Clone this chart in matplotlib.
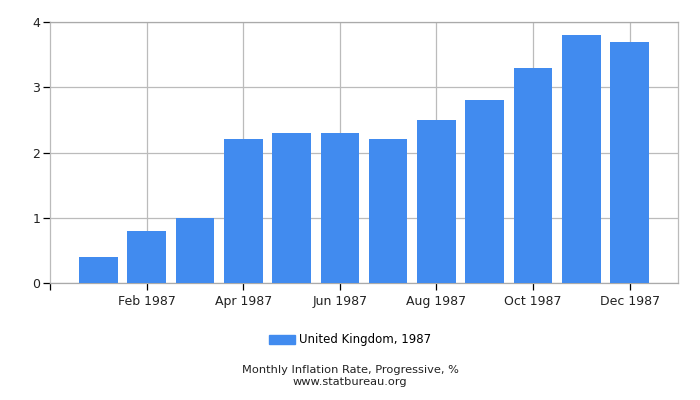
import matplotlib
matplotlib.use("Agg")
import matplotlib.pyplot as plt
from matplotlib.patches import Patch

months = ["Jan", "Feb", "Mar", "Apr", "May", "Jun", "Jul", "Aug", "Sep", "Oct", "Nov", "Dec"]
values = [0.4, 0.8, 1.0, 2.2, 2.3, 2.3, 2.2, 2.5, 2.8, 3.3, 3.8, 3.7]
tick_labels = ["Feb 1987", "Apr 1987", "Jun 1987", "Aug 1987", "Oct 1987", "Dec 1987"]
series_name = "United Kingdom, 1987"
title = "Monthly Inflation Rate, Progressive, %"
source = "www.statbureau.org"

color = "#418BEF"
plt.rcParams['font.family'] = ['DejaVu Sans']

fig = plt.figure(figsize=(7, 4), dpi=100)
ax = fig.add_axes([50/700, 1 - 283/400, (678-50)/700, (283-22)/400])

x = list(range(len(months)))
ax.bar(x, values, width=0.8, color=color, zorder=3)

ax.set_xlim(-1, 12)
ax.set_ylim(0, 4)
ax.set_yticks([0, 1, 2, 3, 4])
ax.set_xticks([-1] + [1, 3, 5, 7, 9, 11])
ax.set_xticklabels([""] + tick_labels)
ax.grid(True, color="#bbbbbb", linewidth=0.9, zorder=0)
ax.xaxis.get_gridlines()[0].set_visible(False)
for s in ax.spines.values():
    s.set_color("#bbbbbb")
    s.set_linewidth(0.9)
ax.spines['bottom'].set_color("#aaaaaa")
ax.spines['top'].set_color("#aaaaaa")
ax.tick_params(axis='both', colors="#000000", labelsize=9, length=5, width=0.9, labelcolor="#222222")
ax.tick_params(axis='y', pad=2)

fig.legend(handles=[Patch(color=color, label=series_name)], loc='center',
           bbox_to_anchor=(0.5, 1 - 340/400), frameon=False, fontsize=8.5,
           handlelength=2.2, handleheight=0.8, handletextpad=0.4)
fig.text(0.5, 1 - 370/400, title, ha='center', va='center', fontsize=8.2, color="#222222")
fig.text(0.5, 1 - 382/400, source, ha='center', va='center', fontsize=8.2, color="#222222")

fig.savefig("out.png", dpi=100)
